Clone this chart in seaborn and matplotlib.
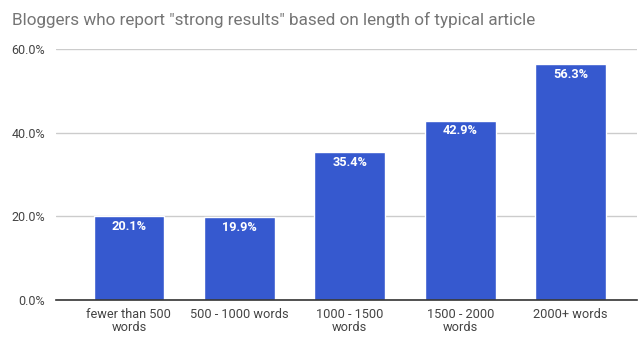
import matplotlib
matplotlib.use("Agg")
import matplotlib.pyplot as plt
import seaborn as sns
import pandas as pd

categories = ["fewer than 500\nwords", "500 - 1000 words", "1000 - 1500\nwords", "1500 - 2000\nwords", "2000+ words"]
values = [20.1, 19.9, 35.4, 42.9, 56.3]
yticks = [0, 20, 40, 60]
ytick_labels = ["0.0%", "20.0%", "40.0%", "60.0%"]
title = 'Bloggers who report "strong results" based on length of typical article'

sns.set_theme(style="white")
plt.rcParams['font.family'] = ['Roboto', 'DejaVu Sans']

df = pd.DataFrame({"cat": categories, "val": values})

fig = plt.figure(figsize=(6.44, 3.47), dpi=100)
ax = fig.add_axes([0.087, 0.135, 0.902, 0.724])
sns.barplot(data=df, x="cat", y="val", color="#3659CF", saturation=1, width=0.64, ax=ax, zorder=3)
ax.set_xlim(-0.66, 4.6)
ax.set_ylim(0, 60)
ax.set_yticks(yticks)
ax.set_yticklabels(ytick_labels, color="#444444", fontsize=9)
ax.tick_params(axis="x", colors="#444444", labelsize=9.2, length=0, pad=6)
ax.tick_params(axis="y", length=0, pad=8)
for lab in ax.get_xticklabels():
    lab.set_linespacing(1.0)
ax.set_xlabel("")
ax.set_ylabel("")
ax.grid(axis="y", color="#cccccc", linewidth=1, zorder=0)
for s in ["top", "right", "left"]:
    ax.spines[s].set_visible(False)
ax.spines["bottom"].set_color("#333333")
ax.spines["bottom"].set_linewidth(1.2)
ax.spines["bottom"].set_zorder(4)

for p, v in zip(ax.patches, values):
    ax.text(p.get_x() + p.get_width() / 2, v - 0.9, f"{v:.1f}%", ha="center", va="top",
            color="white", fontsize=9.2, fontweight="bold", zorder=5)

fig.text(12 / 644, 1 - 20 / 347, title, fontsize=12.3, color="#757575", va="center", ha="left")

fig.savefig("out.png", dpi=100)
